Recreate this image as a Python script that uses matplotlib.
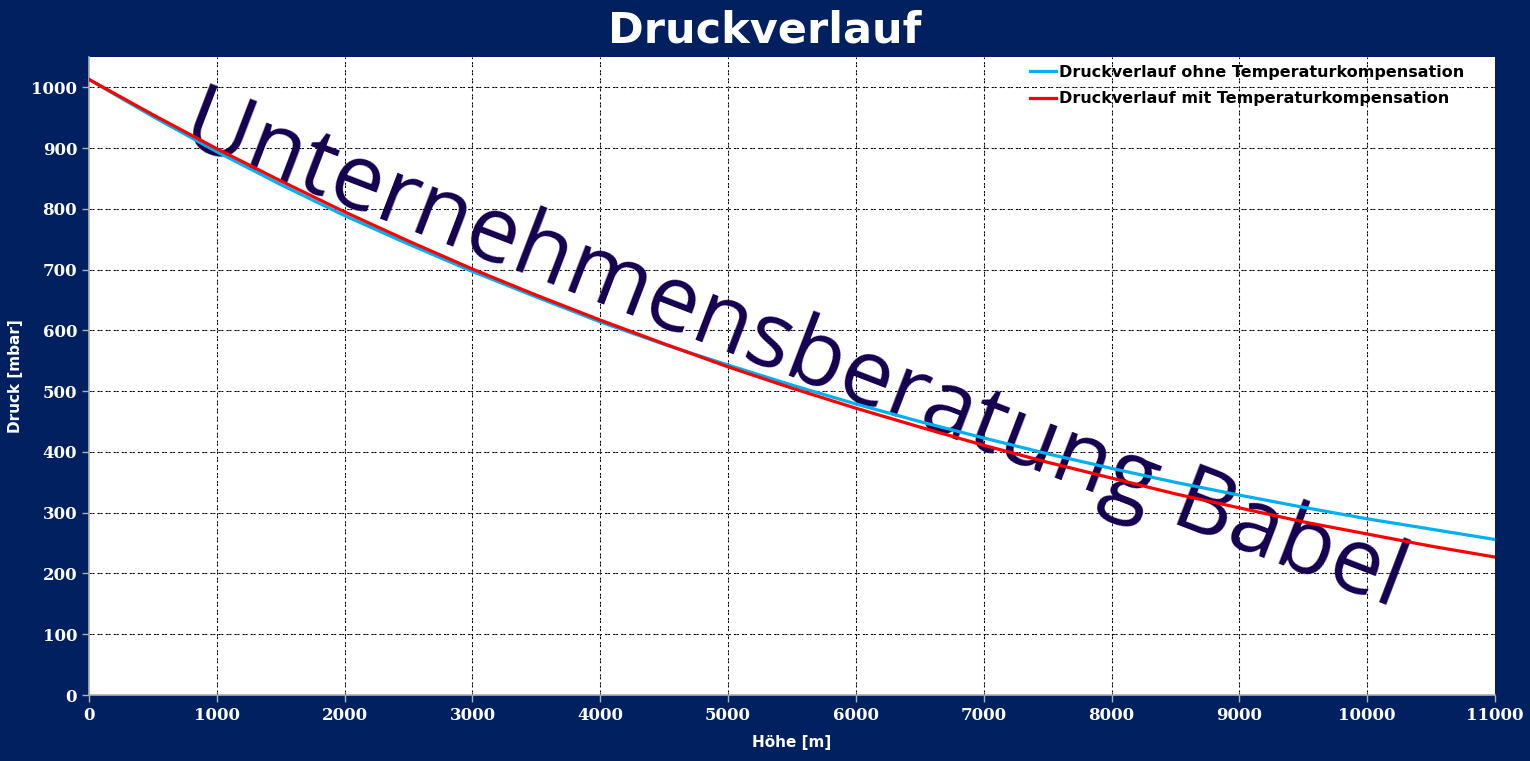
import numpy as np
import matplotlib.pyplot as plt

# Höhe in m
hoehe = [0, 500, 1000, 1500, 2000, 2500, 3000, 3500, 4000, 4500, 5000, 5500,
         6000, 6500, 7000, 7500, 8000, 8500, 9000, 9500, 10000, 10500, 11000]

# Druck in mbar
druck_ohne = [1013, 952, 894, 840, 789, 742, 697, 655, 614, 577, 543, 510,
              479, 450, 423, 397, 373, 350, 329, 309, 290, 273, 256]
druck_mit = [1013, 955, 899, 846, 795, 747, 701, 658, 617, 578, 540, 505,
             472, 441, 411, 383, 357, 331, 308, 285, 265, 245, 227]

labels = ['Druckverlauf ohne Temperaturkompensation',
          'Druckverlauf mit Temperaturkompensation']

xticks = np.arange(0, 11001, 1000)
yticks = np.arange(0, 1001, 100)

bg = '#002060'
plt.rcParams['lines.scale_dashes'] = False

fig = plt.figure(figsize=(15.3, 7.61), dpi=100, facecolor=bg)
ax = fig.add_axes([0.0582, 0.0867, 0.9189, 0.8384])
ax.set_facecolor('white')

ax.plot(hoehe, druck_ohne, color='#00B0F0', lw=2.3, label=labels[0], zorder=3)
ax.plot(hoehe, druck_mit, color='#FF0000', lw=2.3, label=labels[1], zorder=4)

ax.set_xlim(0, 11000)
ax.set_ylim(0, 1050)
ax.set_xticks(xticks)
ax.set_yticks(yticks)

# Gitter: schwarze Striche mit grauen Punkten dazwischen
for ls, col in [((0, (3.6, 2.2)), 'black'), ((4.3, (0.8, 5.0)), '#A0A0A0')]:
    ax.hlines(yticks[1:], 0, 11000, colors=col, linestyles=[ls], lw=0.75, zorder=1)
    ax.vlines(xticks[1:], 0, 1050, colors=col, linestyles=[ls], lw=0.75, zorder=1)

for s in ['top', 'right']:
    ax.spines[s].set_visible(False)
for s in ['left', 'bottom']:
    ax.spines[s].set_color('#B0B0B0')
    ax.spines[s].set_linewidth(1.2)

ax.tick_params(colors='#B0B0B0', length=5, width=1)
for lab in ax.get_xticklabels() + ax.get_yticklabels():
    lab.set_color('white')
    lab.set_fontfamily('DejaVu Serif')
    lab.set_fontweight('bold')
    lab.set_fontsize(12)

ax.set_xlabel('Höhe [m]', color='white', fontsize=11, fontweight='bold', labelpad=8)
ax.set_ylabel('Druck [mbar]', color='white', fontsize=11, fontweight='bold', labelpad=6)

fig.text(0.5, 0.96, 'Druckverlauf', color='white', fontsize=31, fontweight='bold',
         ha='center', va='center')

# Wasserzeichen
ax.text(0.502, 0.537, 'Unternehmensberatung Babel', transform=ax.transAxes,
        rotation=-21, rotation_mode='anchor', ha='center', va='center',
        fontsize=66, family='Open Sans', color='#150050', zorder=2)

leg = ax.legend(loc='upper right', bbox_to_anchor=(0.984, 1.0), frameon=False,
                handlelength=1.6, handletextpad=0.2, borderaxespad=0.1,
                labelspacing=0.7, prop={'weight': 'bold', 'size': 11.5})

fig.savefig('out.png', dpi=100, facecolor=bg)
